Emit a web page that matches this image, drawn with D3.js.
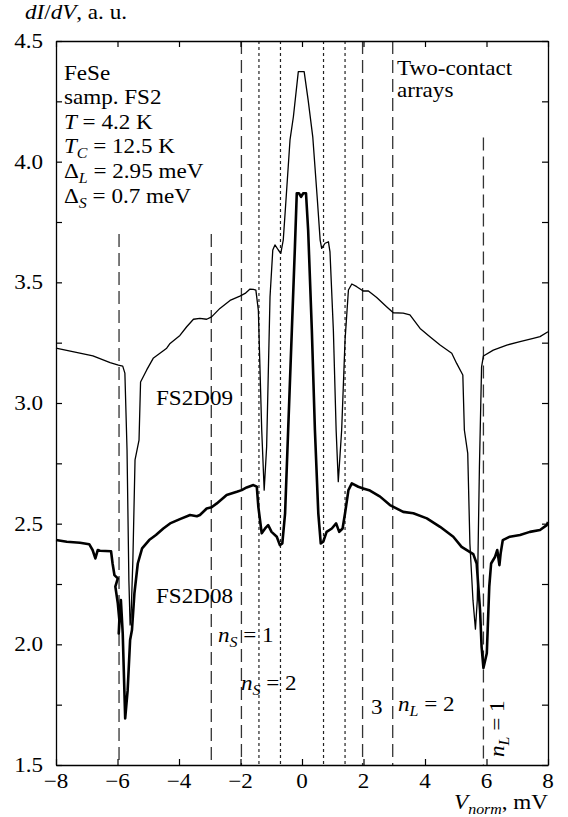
<!DOCTYPE html>
<html>
<head>
<meta charset="utf-8">
<script src="https://cdn.jsdelivr.net/npm/d3@7"></script>
<style>
  html, body { margin: 0; padding: 0; background: #fff; }
  svg { display: block; }
</style>
</head>
<body>
<svg id="chart" width="568" height="817"></svg>
<script>
// Differential conductance of FeSe two-contact arrays, sample FS2, T = 4.2 K.

// Bias voltage (mV, normalized) and dI/dV for contact FS2D09
const fs2d09X = [-8.00,-7.38,-6.80,-6.24,-5.97,-5.83,-5.76,-5.69,-5.63,-5.59,-5.56,-5.50,-5.43,-5.30,-5.25,-5.05,-4.84,-4.62,-4.40,-4.29,-3.97,-3.75,-3.53,-3.32,-3.10,-2.94,-2.67,-2.34,-2.02,-1.85,-1.69,-1.58,-1.50,-1.42,-1.31,-1.23,-1.15,-1.04,-0.95,-0.88,-0.77,-0.69,-0.61,-0.55,-0.39,-0.28,-0.12,0.07,0.20,0.35,0.50,0.59,0.64,0.75,0.86,0.91,1.02,1.11,1.18,1.29,1.40,1.51,1.62,1.78,1.99,2.16,2.43,2.75,2.97,3.29,3.51,3.84,4.16,4.49,4.87,5.03,5.23,5.28,5.39,5.46,5.56,5.64,5.70,5.77,5.84,5.90,6.22,6.66,7.09,7.52,7.74,8.00];
const fs2d09Y = [3.227,3.211,3.195,3.167,3.157,3.153,3.124,2.805,2.266,2.080,2.113,2.349,2.764,2.846,3.087,3.137,3.185,3.206,3.227,3.247,3.280,3.316,3.347,3.351,3.347,3.357,3.392,3.425,3.443,3.454,3.472,3.471,3.468,3.385,2.888,2.639,2.819,3.440,3.634,3.655,3.634,3.620,3.675,3.786,4.090,4.186,4.373,4.373,4.255,4.103,3.841,3.675,3.641,3.662,3.668,3.626,3.302,2.888,2.674,2.888,3.261,3.468,3.493,3.482,3.464,3.464,3.437,3.399,3.374,3.372,3.365,3.309,3.275,3.240,3.206,3.164,3.116,2.888,2.791,2.418,2.183,2.063,2.183,2.736,3.150,3.195,3.219,3.240,3.254,3.268,3.275,3.295];

// Bias voltage (mV, normalized) and dI/dV for contact FS2D08
const fs2d08X = [-8.00,-7.65,-7.22,-6.92,-6.81,-6.72,-6.64,-6.57,-6.21,-6.16,-6.10,-5.99,-6.07,-5.99,-5.94,-5.96,-5.89,-5.83,-5.75,-5.67,-5.59,-5.53,-5.45,-5.34,-5.20,-4.97,-4.75,-4.51,-4.29,-3.97,-3.64,-3.42,-3.32,-3.10,-2.94,-2.77,-2.45,-2.12,-1.96,-1.80,-1.58,-1.47,-1.42,-1.31,-1.20,-1.10,-0.99,-0.82,-0.72,-0.64,-0.55,-0.45,-0.33,-0.23,-0.17,-0.10,-0.03,0.04,0.13,0.20,0.32,0.42,0.53,0.61,0.69,0.80,0.97,1.11,1.21,1.32,1.40,1.51,1.62,1.83,1.99,2.21,2.54,2.86,3.29,3.62,4.06,4.49,4.92,5.19,5.57,5.68,5.79,5.84,5.90,6.01,6.09,6.15,6.28,6.35,6.42,6.46,6.53,6.76,7.09,7.41,7.74,7.96,8.00];
const fs2d08Y = [2.432,2.425,2.421,2.415,2.391,2.356,2.391,2.388,2.386,2.335,2.287,2.273,2.239,2.170,2.101,2.045,2.183,2.045,1.693,1.810,2.018,2.059,2.211,2.335,2.398,2.432,2.453,2.480,2.501,2.519,2.536,2.531,2.536,2.563,2.568,2.584,2.619,2.632,2.639,2.650,2.660,2.653,2.570,2.460,2.480,2.494,2.466,2.446,2.411,2.418,2.543,2.888,3.302,3.648,3.869,3.869,3.854,3.869,3.869,3.717,3.302,2.888,2.543,2.418,2.425,2.466,2.480,2.501,2.466,2.480,2.543,2.639,2.667,2.653,2.646,2.637,2.612,2.577,2.549,2.543,2.522,2.487,2.446,2.404,2.374,2.335,2.142,1.990,1.902,1.963,2.239,2.335,2.363,2.391,2.328,2.377,2.432,2.446,2.453,2.466,2.474,2.494,2.507];

// Subharmonic gap positions 2Δ/n (mV): "L" = large gap (dashed), "S" = small gap (dotted)
const markerX    = [-5.95, -2.95, -1.97, -1.4, -0.7, 0.7, 1.4, 1.97, 2.95, 5.9];
const markerTop  = [3.7, 3.7, 4.5, 4.5, 4.5, 4.5, 4.5, 4.5, 4.5, 4.1];
const markerKind = ["L", "L", "L", "S", "S", "S", "S", "L", "L", "L"];

// Axis ticks
const xTicks = [-8, -6, -4, -2, 0, 2, 4, 6, 8];
const yTicks = [1.5, 2.0, 2.5, 3.0, 3.5, 4.0, 4.5];
const yMinorTicks = [1.5, 1.75, 2.0, 2.25, 2.5, 2.75, 3.0, 3.25, 3.5, 3.75, 4.0, 4.25, 4.5];

const FONT = "'Liberation Serif', 'DejaVu Serif', serif";
const FS = 21, SUB_FS = 14.5, SX = 1.1;

const svg = d3.select("#chart");
const x = d3.scaleLinear().domain([-8, 8]).range([56, 548]);
const y = d3.scaleLinear().domain([1.5, 4.5]).range([765, 41]);

// text helper: parts = [{t, i (italic), sub (subscript)}]
function label(x0, y0, parts, opts = {}) {
  const g = svg.append("g")
    .attr("transform", `translate(${x0},${y0}) rotate(${opts.rotate || 0}) scale(${SX},1)`);
  const t = g.append("text")
    .attr("font-family", FONT)
    .attr("font-size", FS)
    .attr("fill", "#000")
    .attr("text-anchor", opts.anchor || "start");
  let shift = 0;
  parts.forEach(p => {
    const ts = t.append("tspan").text(p.t);
    if (p.i) ts.attr("font-style", "italic");
    const target = p.sub ? 5 : 0;
    if (target !== shift) { ts.attr("dy", target - shift); shift = target; }
    if (p.sub) ts.attr("font-size", SUB_FS);
  });
  return g;
}

// Gap marker lines
markerX.forEach((v, k) => {
  svg.append("line")
    .attr("x1", x(v)).attr("x2", x(v))
    .attr("y1", y(markerTop[k])).attr("y2", y(1.5))
    .attr("stroke", markerKind[k] === "L" ? "#333" : "#222")
    .attr("stroke-width", markerKind[k] === "L" ? 1.3 : 1.2)
    .attr("stroke-dasharray", markerKind[k] === "L" ? "13,6" : "3,3");
});

// Curves
const line = d3.line().x(d => x(d[0])).y(d => y(d[1]));
const d09 = fs2d09X.map((v, k) => [v, fs2d09Y[k]]);
const d08 = fs2d08X.map((v, k) => [v, fs2d08Y[k]]);

svg.append("path").datum(d09)
  .attr("d", line).attr("fill", "none")
  .attr("stroke", "#000").attr("stroke-width", 1.3)
  .attr("stroke-linejoin", "round");
svg.append("path").datum(d08)
  .attr("d", line).attr("fill", "none")
  .attr("stroke", "#000").attr("stroke-width", 2.6)
  .attr("stroke-linejoin", "round");

// Axes: inward ticks on all four sides
function styleAxis(g) {
  g.selectAll("path.domain").attr("stroke", "#000").attr("stroke-width", 1.3);
  g.selectAll(".tick line").attr("stroke", "#000").attr("stroke-width", 1.2);
  g.selectAll(".tick text").remove();
}
svg.append("g").attr("transform", `translate(0,${y(1.5)})`)
  .call(d3.axisBottom(x).tickValues(xTicks).tickSizeInner(-6).tickSizeOuter(0).tickFormat(""))
  .call(styleAxis);
svg.append("g").attr("transform", `translate(0,${y(4.5)})`)
  .call(d3.axisTop(x).tickValues(xTicks).tickSizeInner(-6).tickSizeOuter(0).tickFormat(""))
  .call(styleAxis);
svg.append("g").attr("transform", `translate(${x(-8)},0)`)
  .call(d3.axisLeft(y).tickValues(yMinorTicks).tickSizeInner(-6).tickSizeOuter(0).tickFormat(""))
  .call(styleAxis);
svg.append("g").attr("transform", `translate(${x(8)},0)`)
  .call(d3.axisRight(y).tickValues(yMinorTicks).tickSizeInner(-6).tickSizeOuter(0).tickFormat(""))
  .call(styleAxis);

// Tick labels
xTicks.forEach(v => {
  label(x(v), 788, [{ t: v < 0 ? "\u2212" + Math.abs(v) : String(v) }], { anchor: "middle" });
});
yTicks.forEach(v => {
  label(43, y(v) + 7, [{ t: v.toFixed(1) }], { anchor: "end" });
});

// Axis titles
label(25, 19, [{ t: "dI", i: true }, { t: "/" }, { t: "dV", i: true }, { t: ", a. u." }]);
label(548, 809, [{ t: "V", i: true }, { t: "norm", i: true, sub: true }, { t: ", mV" }], { anchor: "end" });

// Sample parameters
const info = [
  [{ t: "FeSe" }],
  [{ t: "samp. FS2" }],
  [{ t: "T", i: true }, { t: " = 4.2 K" }],
  [{ t: "T", i: true }, { t: "C", i: true, sub: true }, { t: " = 12.5 K" }],
  [{ t: "\u0394" }, { t: "L", i: true, sub: true }, { t: " = 2.95 meV" }],
  [{ t: "\u0394" }, { t: "S", i: true, sub: true }, { t: " = 0.7 meV" }]
];
info.forEach((parts, k) => label(64, 79.5 + 24.6 * k, parts));

label(397, 75, [{ t: "Two-contact" }]);
label(397, 97, [{ t: "arrays" }]);

// Curve names
label(156, 405, [{ t: "FS2D09" }]);
label(156, 603, [{ t: "FS2D08" }]);

// Subharmonic order labels
label(218, 642, [{ t: "n", i: true }, { t: "S", i: true, sub: true }, { t: " = 1" }]);
label(241, 690, [{ t: "n", i: true }, { t: "S", i: true, sub: true }, { t: " = 2" }]);
label(371, 714, [{ t: "3" }]);
label(398, 711, [{ t: "n", i: true }, { t: "L", i: true, sub: true }, { t: " = 2" }]);
label(504, 757, [{ t: "n", i: true }, { t: "L", i: true, sub: true }, { t: " = 1" }], { rotate: -90 });
</script>
</body>
</html>
